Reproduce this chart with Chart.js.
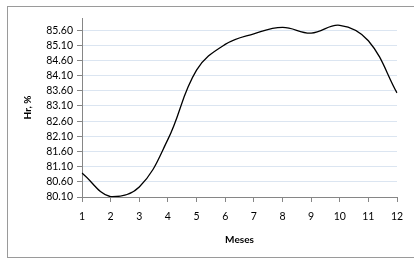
<!DOCTYPE html>
<html>
<head>
<meta charset="utf-8">
<script src="https://cdn.jsdelivr.net/npm/chart.js@4/dist/chart.umd.min.js"></script>
<style>
  html, body { margin: 0; padding: 0; background: #fff; }
  #wrap { position: relative; width: 414px; height: 260px; overflow: hidden; }
  #frame { position: absolute; left: 7px; top: 6px; width: 420px; height: 252px; border: 1px solid #9a9a9a; box-sizing: border-box; }
  canvas { position: absolute; left: 0; top: 0; }
</style>
</head>
<body>
<div id="wrap">
  <div id="frame"></div>
  <canvas id="chart" width="414" height="260"></canvas>
</div>
<script>
// Hr, % by month
const months = ['1', '2', '3', '4', '5', '6', '7', '8', '9', '10', '11', '12'];
const humidity = [80.89, 80.11, 80.43, 82.00, 84.28, 85.13, 85.48, 85.69, 85.50, 85.76, 85.25, 83.53];
const yTicks = [80.1, 80.6, 81.1, 81.6, 82.1, 82.6, 83.1, 83.6, 84.1, 84.6, 85.1, 85.6];

const FONT = 'Lato, "Open Sans", sans-serif';
const AXIS = '#868686';

new Chart(document.getElementById('chart'), {
  type: 'line',
  data: {
    labels: months,
    datasets: [{
      data: humidity,
      borderColor: '#000',
      borderWidth: 1.3,
      pointRadius: 0,
      tension: 0.4,
      fill: false,
    }]
  },
  options: {
    responsive: false,
    animation: false,
    layout: { padding: { left: 0, top: 18, right: 17, bottom: 0 } },
    plugins: { legend: { display: false }, tooltip: { enabled: false } },
    scales: {
      x: {
        offset: false,
        grid: { drawOnChartArea: false, color: AXIS, tickLength: 5 },
        border: { color: AXIS },
        ticks: { color: '#000', font: { family: FONT, size: 10.5 }, padding: 8, maxRotation: 0 },
        title: { display: true, text: 'Meses', color: '#000', font: { family: FONT, size: 10, weight: 'bold' }, padding: { top: 4, bottom: 14 } },
        afterFit: s => { s.height = 63; },
      },
      y: {
        min: 80.1,
        max: 86,
        grid: { color: '#dbe5f1', tickColor: AXIS, tickLength: 5 },
        border: { color: AXIS },
        ticks: { color: '#000', font: { family: FONT, size: 10.5 }, padding: 4, callback: v => v.toFixed(2) },
        afterBuildTicks: s => { s.ticks = yTicks.map(v => ({ value: v })); },
        title: { display: true, text: 'Hr, %', color: '#000', font: { family: FONT, size: 10, weight: 'bold' }, padding: { top: 22, bottom: 0 } },
        afterFit: s => { s.width = 82; },
      }
    }
  }
});
</script>
</body>
</html>
